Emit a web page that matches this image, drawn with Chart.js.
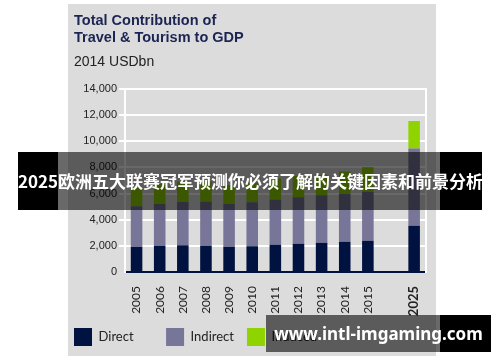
<!DOCTYPE html>
<html lang="en">
<head>
    <meta charset="UTF-8">
    <title>Total Contribution of Travel &amp; Tourism to GDP</title>
    <style>
        body {
            margin: 0;
            width: 500px;
            height: 362px;
            background: #fff;
            position: relative;
            overflow: hidden;
        }

        #panel {
            position: absolute;
            left: 68px;
            top: 4px;
            width: 368px;
            height: 352px;
            background: #dcdcdc;
        }

        #band {
            position: absolute;
            left: 18px;
            top: 152px;
            width: 464px;
            height: 58px;
            background: linear-gradient(to right, #000 0 40px, rgba(0, 0, 0, 0.59) 40px 422px, #000 422px);
            color: #fff;
            font: bold 17px "Noto Sans CJK SC", sans-serif;
            line-height: 58px;
            text-align: center;
            white-space: nowrap;
        }

        #mark {
            position: absolute;
            left: 266px;
            top: 315px;
            width: 225px;
            height: 37px;
            background: linear-gradient(to right, rgba(0, 0, 0, 0.59) 0 174px, #000 174px);
            color: #fff;
            font: bold 17px "Noto Sans", sans-serif;
            line-height: 37px;
            text-align: center;
            white-space: nowrap;
        }
    </style>
    <script src="https://cdn.jsdelivr.net/npm/chart.js"></script>
</head>
<body>
    <div id="panel">
        <canvas id="chart"></canvas>
    </div>
    <div id="band">2025欧洲五大联赛冠军预测你必须了解的关键因素和前景分析</div>
    <div id="mark">www.intl-imgaming.com</div>

    <script>
        // values (2014 USD bn), blank slot before 2025
        const years = ['2005', '2006', '2007', '2008', '2009', '2010', '2011', '2012', '2013', '2014', '2015', '', '2025'];
        const direct = [1920, 2000, 2050, 2000, 1920, 1970, 2080, 2150, 2230, 2310, 2380, null, 3540];
        const indirect = [3100, 3200, 3310, 3380, 3280, 3360, 3460, 3570, 3640, 3670, 3740, null, 5900];
        const induced = [1430, 1500, 1540, 1520, 1450, 1520, 1610, 1630, 1570, 1710, 1880, null, 2110];
        const seriesNames = ['Direct', 'Indirect', 'Induced'];
        const yMin = 0;
        const yMax = 14000;
        const yStep = 2000;

        const colors = ['#001340', '#777598', '#8fd400'];
        // extra gap after each legend label
        const legendGaps = [5, 2, 0];

        const ctx = document.getElementById('chart').getContext('2d');
        const chart = new Chart(ctx, {
            type: 'bar',
            data: {
                labels: years,
                datasets: [direct, indirect, induced].map((values, i) => ({
                    label: seriesNames[i],
                    data: values,
                    backgroundColor: colors[i],
                    borderWidth: 0,
                    barPercentage: 0.5,
                    categoryPercentage: 1.0
                }))
            },
            options: {
                responsive: true,
                maintainAspectRatio: false,
                animation: false,
                layout: {
                    padding: { left: 6, right: 7, top: 0, bottom: 0 }
                },
                plugins: {
                    title: {
                        display: true,
                        text: ['Total Contribution of', 'Travel & Tourism to GDP'],
                        align: 'start',
                        color: '#1b2452',
                        font: { family: 'Liberation Sans, Arial', size: 14.5, weight: 'bold', lineHeight: 1.14 },
                        padding: { top: 9, bottom: 0 }
                    },
                    subtitle: {
                        display: true,
                        text: '2014 USDbn',
                        align: 'start',
                        color: '#222',
                        font: { family: 'Liberation Sans, Arial', size: 14, lineHeight: 1.2 },
                        padding: { top: 8, bottom: 18 }
                    },
                    legend: {
                        position: 'bottom',
                        align: 'start',
                        labels: {
                            boxWidth: 18,
                            boxHeight: 18,
                            padding: 0,
                            color: '#222',
                            font: { family: 'Lato', size: 13 },
                            generateLabels: (c) => Chart.defaults.plugins.legend.labels.generateLabels(c).map((item, i) => {
                                item.text = item.text + '\u2002'.repeat(legendGaps[i]);
                                item.lineWidth = 0;
                                return item;
                            })
                        }
                    },
                    tooltip: { enabled: false }
                },
                scales: {
                    x: {
                        stacked: true,
                        grid: { display: false },
                        border: { display: true, color: '#001340', width: 2 },
                        ticks: {
                            minRotation: 90,
                            maxRotation: 90,
                            autoSkip: false,
                            padding: 6,
                            color: '#222',
                            font: (c) => (c.tick && c.tick.label === '2025')
                                ? { family: 'Lato', size: 13, weight: 'bold' }
                                : { family: 'Lato', size: 12 }
                        },
                        afterFit: (scale) => { scale.height = 56; }
                    },
                    y: {
                        stacked: true,
                        min: yMin,
                        max: yMax,
                        grid: {
                            color: (c) => (c.tick && c.tick.value === 0) ? 'rgba(0,0,0,0)' : '#fff',
                            lineWidth: 2,
                            tickLength: 6
                        },
                        border: { display: true, color: '#fff', width: 2 },
                        ticks: {
                            stepSize: yStep,
                            padding: 2,
                            color: '#222',
                            font: { family: 'Liberation Sans, Arial', size: 11 }
                        },
                        afterFit: (scale) => { scale.width = 51; }
                    },
                    y2: {
                        position: 'right',
                        display: true,
                        grid: { display: false },
                        ticks: { display: false },
                        border: { display: true, color: '#fff', width: 2 },
                        afterFit: (scale) => { scale.width = 0; }
                    }
                }
            }
        });
    </script>
</body>
</html>
